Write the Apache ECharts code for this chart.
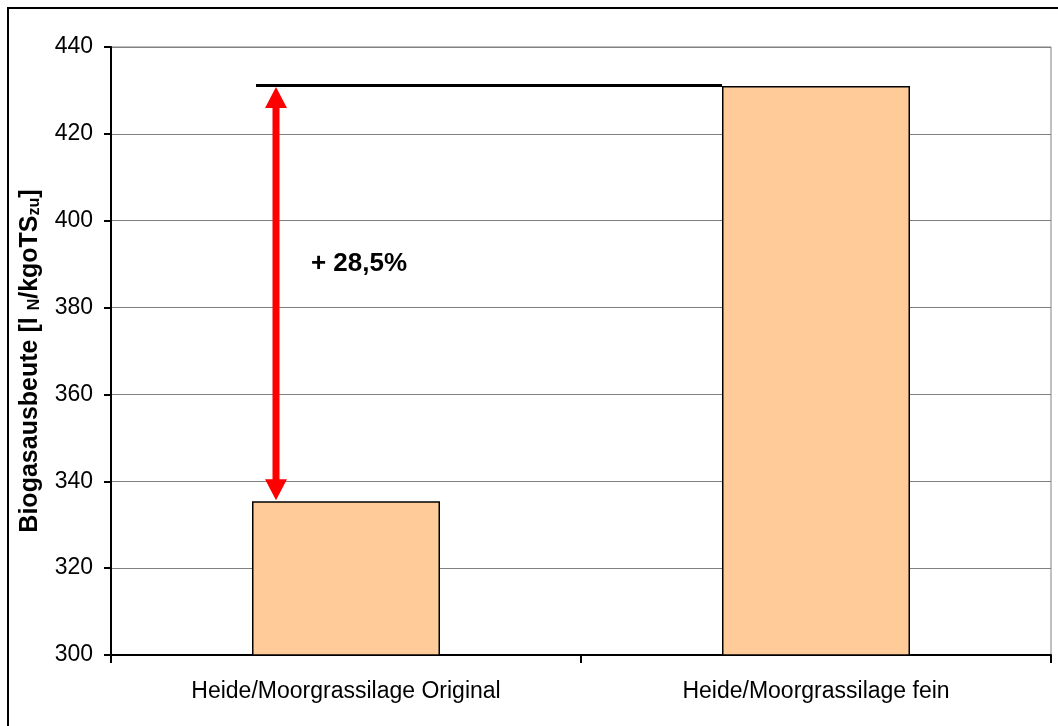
<!DOCTYPE html>
<html>
<head>
<meta charset="utf-8">
<script src="https://cdn.jsdelivr.net/npm/echarts@6/dist/echarts.min.js"></script>
<style>
  html, body { margin: 0; padding: 0; background: #ffffff; }
  #chart { width: 1058px; height: 726px; }
</style>
</head>
<body>
<div id="chart"></div>
<script>
// Biogas yield of heath/moor grass silage, original vs. finely chopped
const categories = ['Heide/Moorgrassilage Original', 'Heide/Moorgrassilage fein'];
const biogasYield = [335.4, 431.0];
const yTicks = [300, 320, 340, 360, 380, 400, 420, 440];

const FONT = '"Liberation Sans", Arial, sans-serif';
const increasePct = ((biogasYield[1] - biogasYield[0]) / biogasYield[0] * 100)
  .toFixed(1).replace('.', ',');

const chart = echarts.init(document.getElementById('chart'), null, { renderer: 'canvas' });

// Reference line at the higher yield, double arrow between both yields, and the gain label
function renderComparison(params, api) {
  const band = api.size([1, 0])[0];
  const barHalf = band * 0.2;
  const lowPt = api.coord([0, biogasYield[0]]);
  const highPt = api.coord([0, biogasYield[1]]);
  const highRight = api.coord([1, biogasYield[1]]);
  const lineStart = lowPt[0] - barHalf + 4;
  const lineEnd = highRight[0] - barHalf;
  const ax = lowPt[0] - barHalf + 24;
  const yTop = highPt[1] + 1;
  const yBot = lowPt[1] - 1;
  const headLen = 21, headW = 11, shaftW = 3.5;
  const labelPt = api.coord([0, 390]);
  return {
    type: 'group',
    children: [
      {
        type: 'line',
        shape: { x1: lineStart, y1: highPt[1] - 0.5, x2: lineEnd, y2: highPt[1] - 0.5 },
        style: { stroke: '#000000', lineWidth: 3 }
      },
      {
        type: 'polygon',
        shape: {
          points: [
            [ax, yTop],
            [ax + headW, yTop + headLen],
            [ax + shaftW, yTop + headLen],
            [ax + shaftW, yBot - headLen],
            [ax + headW, yBot - headLen],
            [ax, yBot],
            [ax - headW, yBot - headLen],
            [ax - shaftW, yBot - headLen],
            [ax - shaftW, yTop + headLen],
            [ax - headW, yTop + headLen]
          ]
        },
        style: { fill: '#FF0000' }
      },
      {
        type: 'text',
        style: {
          x: labelPt[0] + 13,
          y: labelPt[1],
          text: '+ ' + increasePct + '%',
          fill: '#000000',
          font: 'bold 26px ' + FONT,
          align: 'center',
          verticalAlign: 'middle'
        }
      }
    ]
  };
}

chart.setOption({
  animation: false,
  backgroundColor: '#ffffff',
  graphic: [
    {
      type: 'rect',
      shape: { x: 8, y: 8, width: 1100, height: 800 },
      style: { fill: 'none', stroke: '#000000', lineWidth: 2 },
      z: 100
    }
  ],
  grid: {
    left: 111, right: 7, top: 47, bottom: 71,
    show: true, borderColor: '#808080', borderWidth: 1,
    containLabel: false
  },
  xAxis: {
    type: 'category',
    data: categories,
    boundaryGap: true,
    axisLine: { show: true, lineStyle: { color: '#000000', width: 2 } },
    axisTick: { show: true, alignWithLabel: false, length: 8, lineStyle: { color: '#000000', width: 2 } },
    axisLabel: { color: '#000000', fontSize: 23, fontFamily: FONT, margin: 25 },
    splitLine: { show: false }
  },
  yAxis: {
    type: 'value',
    min: yTicks[0],
    max: yTicks[yTicks.length - 1],
    interval: yTicks[1] - yTicks[0],
    axisLine: { show: true, lineStyle: { color: '#000000', width: 2 } },
    axisTick: { show: true, inside: false, length: 7, lineStyle: { color: '#000000', width: 2 } },
    axisLabel: { color: '#000000', fontSize: 23, fontFamily: FONT, margin: 18 },
    splitLine: { show: true, lineStyle: { color: '#808080', width: 1 } },
    name: 'Biogasausbeute [l {sub|N}/kgoTS{sub|zu}]',
    nameLocation: 'middle',
    nameRotate: 90,
    nameGap: 68,
    nameTextStyle: {
      color: '#000000', fontSize: 25, fontWeight: 'bold', fontFamily: FONT,
      padding: [0, 20, 0, 0],
      rich: {
        sub: { fontSize: 16, fontWeight: 'bold', fontFamily: FONT, color: '#000000', verticalAlign: 'bottom', padding: [10, 0, 0, 0] }
      }
    }
  },
  series: [
    {
      type: 'bar',
      data: biogasYield,
      barWidth: '40%',
      itemStyle: { color: '#FFCC99', borderColor: '#000000', borderWidth: 1.5 },
      z: 2
    },
    {
      type: 'custom',
      coordinateSystem: 'cartesian2d',
      renderItem: renderComparison,
      data: [[0, biogasYield[1]]],
      z: 5,
      silent: true
    }
  ]
});
</script>
</body>
</html>
